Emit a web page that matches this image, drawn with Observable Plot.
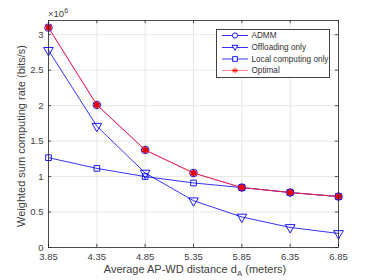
<!DOCTYPE html>
<html><head><meta charset="utf-8">
<script src="https://cdn.jsdelivr.net/npm/d3@7"></script>
<script src="https://cdn.jsdelivr.net/npm/@observablehq/plot@0.6"></script>
<style>
html,body{margin:0;padding:0;background:#fff;}
#chart{position:relative;width:374px;height:280px;}
</style>
</head><body><div id="chart"></div>
<script>
const distances = [3.85, 4.35, 4.85, 5.35, 5.85, 6.35, 6.85];
const admm = [3.10, 2.01, 1.375, 1.05, 0.845, 0.775, 0.718];
const offloading = [2.78, 1.71, 1.05, 0.66, 0.43, 0.283, 0.198];
const localOnly = [1.266, 1.115, 1.0, 0.91, 0.845, 0.775, 0.718];
const optimal = [3.10, 2.01, 1.375, 1.05, 0.845, 0.775, 0.718];
const xTicks = [3.85, 4.35, 4.85, 5.35, 5.85, 6.35, 6.85];
const yTicks = [0, 0.5, 1, 1.5, 2, 2.5, 3];
const seriesNames = ["ADMM", "Offloading only", "Local computing only", "Optimal"];

const rows = (vals) => distances.map((d, i) => ({x: d, y: vals[i]}));
const A = rows(admm), O = rows(offloading), L = rows(localOnly), P = rows(optimal);

const axisCol = "#262626";
const gridCol = "#e6e6e6";
const blue = "#0000ff", red = "#ff0000";
const xMin = 3.85, xMax = 6.85, yMin = 0, yMax = 3.2;

const plot = Plot.plot({
  width: 374, height: 280,
  marginLeft: 48, marginRight: 36, marginTop: 20, marginBottom: 33,
  style: {fontFamily: "Liberation Sans, Arial, sans-serif", fontSize: "9px", color: axisCol, background: "#fff"},
  x: {domain: [xMin, xMax], ticks: xTicks},
  y: {domain: [yMin, yMax], ticks: yTicks},
  marks: [
    Plot.ruleX(xTicks, {stroke: gridCol, strokeWidth: 1}),
    Plot.ruleY(yTicks, {stroke: gridCol, strokeWidth: 1}),
    Plot.axisX(xTicks, {tickSize: 0, tickPadding: 6, tickFormat: d => d.toFixed(2), label: null, fill: "#404040", fontSize: 9.5}),
    Plot.axisY(yTicks, {tickSize: 0, tickPadding: 5, tickFormat: d => String(d), label: null, fill: "#404040", fontSize: 9.5}),
    // inward ticks on all sides
    Plot.ruleX(xTicks, {y1: yMin, y2: yMin + 0.045, stroke: axisCol, strokeWidth: 0.8}),
    Plot.ruleX(xTicks, {y1: yMax, y2: yMax - 0.045, stroke: axisCol, strokeWidth: 0.8}),
    Plot.ruleY(yTicks, {x1: xMin, x2: xMin + 0.032, stroke: axisCol, strokeWidth: 0.8}),
    Plot.ruleY(yTicks, {x1: xMax, x2: xMax - 0.032, stroke: axisCol, strokeWidth: 0.8}),
    // series
    Plot.line(O, {x: "x", y: "y", stroke: blue, strokeWidth: 0.8}),
    Plot.dot(O, {x: "x", y: "y", symbol: "triangle", r: 3.6, stroke: blue, strokeWidth: 0.9, fill: "none", rotate: 180}),
    Plot.line(L, {x: "x", y: "y", stroke: blue, strokeWidth: 0.8}),
    Plot.dot(L, {x: "x", y: "y", symbol: "square", r: 3.2, stroke: blue, strokeWidth: 0.9, fill: "none"}),
    Plot.line(A, {x: "x", y: "y", stroke: blue, strokeWidth: 0.5, strokeOpacity: 0.6}),
    Plot.dot(A, {x: "x", y: "y", symbol: "circle", r: 3.8, stroke: blue, strokeWidth: 0.9, fill: "none"}),
    Plot.line(P, {x: "x", y: "y", stroke: "#f41a3c", strokeWidth: 1}),
    Plot.dot(P, {x: "x", y: "y", symbol: "circle", r: 3.0, fill: red, stroke: "none"}),
    Plot.dot(P, {x: "x", y: "y", symbol: "asterisk", r: 3.6, stroke: "#cc0000", strokeWidth: 0.8}),
    Plot.frame({stroke: axisCol, strokeWidth: 0.8})
  ]
});
document.getElementById("chart").appendChild(plot);

const svg = d3.select(plot);
const font = "Liberation Sans, Arial, sans-serif";
// x label with subscript
const xl = svg.append("text").attr("x", 195).attr("y", 273).attr("text-anchor", "middle")
  .attr("font-family", font).attr("font-size", 11).attr("fill", "#404040");
xl.append("tspan").text("Average AP-WD distance d");
xl.append("tspan").attr("font-size", 8).attr("dy", 3).text("A");
xl.append("tspan").attr("dy", -3).text(" (meters)");
// y label
svg.append("text").attr("transform", "translate(25,136) rotate(-90)").attr("text-anchor", "middle")
  .attr("font-family", font).attr("font-size", 11).attr("fill", "#404040")
  .text("Weighted sum computing rate (bits/s)");
// exponent
const ex = svg.append("text").attr("x", 48).attr("y", 17).attr("text-anchor", "start").attr("font-family", font)
  .attr("font-size", 9.5).attr("fill", "#404040");
ex.append("tspan").text("\u00d710");
ex.append("tspan").attr("font-size", 7).attr("dy", -4).text("6");

// legend
const lg = svg.append("g").attr("text-anchor", "start");
lg.append("rect").attr("x", 216.5).attr("y", 29.5).attr("width", 113).attr("height", 48)
  .attr("fill", "#ffffff").attr("stroke", "#404040").attr("stroke-width", 1);
const items = [
  {name: seriesNames[0], color: blue, sym: "circle", y: 35.5},
  {name: seriesNames[1], color: blue, sym: "tri", y: 47.5},
  {name: seriesNames[2], color: blue, sym: "square", y: 59},
  {name: seriesNames[3], color: "#ff7070", sym: "star", y: 70.5}
];
items.forEach(it => {
  lg.append("line").attr("x1", 222).attr("x2", 248).attr("y1", it.y).attr("y2", it.y)
    .attr("stroke", it.color).attr("stroke-width", 0.8);
  const cx = 235, cy = it.y;
  if (it.sym === "circle") lg.append("circle").attr("cx", cx).attr("cy", cy).attr("r", 2.6).attr("fill", "#fff").attr("stroke", it.color).attr("stroke-width", 0.9);
  if (it.sym === "tri") lg.append("path").attr("d", `M${cx-3},${cy-2.2}L${cx+3},${cy-2.2}L${cx},${cy+2.8}Z`).attr("fill", "#fff").attr("stroke", it.color).attr("stroke-width", 0.9);
  if (it.sym === "square") lg.append("rect").attr("x", cx-2.3).attr("y", cy-2.3).attr("width", 4.6).attr("height", 4.6).attr("fill", "#fff").attr("stroke", it.color).attr("stroke-width", 0.9);
  if (it.sym === "star") {
    [0, 60, 120].forEach(a => {
      const r = 2.8, rad = a * Math.PI / 180;
      lg.append("line").attr("x1", cx - r*Math.sin(rad)).attr("y1", cy - r*Math.cos(rad))
        .attr("x2", cx + r*Math.sin(rad)).attr("y2", cy + r*Math.cos(rad)).attr("stroke", "#ff0000").attr("stroke-width", 0.9);
    });
    lg.append("line").attr("x1", cx-2.8).attr("x2", cx+2.8).attr("y1", cy).attr("y2", cy).attr("stroke", "#ff0000").attr("stroke-width", 0.9);
  }
  lg.append("text").attr("x", 251.5).attr("y", it.y).attr("dy", "0.35em").attr("text-anchor", "start")
    .attr("font-family", font).attr("font-size", 8.2).attr("fill", "#303030").text(it.name);
});
</script>
</body></html>
